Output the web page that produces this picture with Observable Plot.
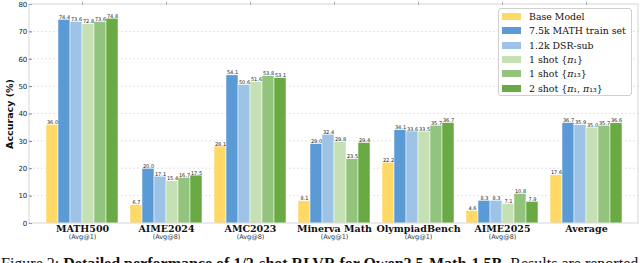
<!DOCTYPE html>
<html><head><meta charset="utf-8">
<script src="https://cdn.jsdelivr.net/npm/d3@7"></script>
<script src="https://cdn.jsdelivr.net/npm/@observablehq/plot@0.6"></script>
<style>
html,body{margin:0;padding:0;background:#fff;}
body{width:640px;height:263px;overflow:hidden;}
#wrap{position:relative;width:640px;height:248px;}
#ylabel{position:absolute;left:9px;top:114px;transform:translate(-50%,-50%) rotate(-90deg);font:bold 9.5px "DejaVu Sans",sans-serif;color:#111;white-space:nowrap;}
#legend{position:absolute;left:498px;top:8px;width:134px;height:88px;border:1px solid #d0d0d0;border-radius:3px;background:rgba(255,255,255,0.9);box-sizing:border-box;}
.row{position:absolute;left:3px;height:14px;display:flex;align-items:center;font:9.4px "DejaVu Serif",serif;color:#111;white-space:nowrap;}
.sw{width:19px;height:7px;margin-right:8px;}
#caption{font-family:"Liberation Serif",serif;font-size:16px;white-space:nowrap;margin-left:1px;line-height:16px;padding-top:8px;color:#111;}
</style></head><body>
<div id="wrap"><div id="ylabel">Accuracy (%)</div><div id="legend"></div></div>
<div id="caption">Figure 2: <b>Detailed performance of 1/2-shot RLVR for Qwen2.5-Math-1.5B.</b> Results are reported</div>
<script>
const benchmarks = ["MATH500","AIME2024","AMC2023","Minerva Math","OlympiadBench","AIME2025","Average"];
const metrics = ["(Avg@1)","(Avg@8)","(Avg@8)","(Avg@1)","(Avg@1)","(Avg@8)",""];
const settings = ["Base Model","7.5k MATH train set","1.2k DSR-sub","1 shot {π₁}","1 shot {π₁₃}","2 shot {π₁, π₁₃}"];
const baseModel   = [36.0, 6.7, 28.1, 8.1, 22.2, 4.6, 17.6];
const math7k5     = [74.4, 20.0, 54.1, 29.0, 34.1, 8.3, 36.7];
const dsrSub      = [73.6, 17.1, 50.6, 32.4, 33.6, 8.3, 35.9];
const shotPi1     = [72.8, 15.4, 51.6, 29.8, 33.5, 7.1, 35.0];
const shotPi13    = [73.6, 16.7, 53.8, 23.5, 35.7, 10.8, 35.7];
const shotPi1Pi13 = [74.8, 17.5, 53.1, 29.4, 36.7, 7.9, 36.6];
const yTicks = [0, 10, 20, 30, 40, 50, 60, 70, 80];
const colors = ["#ffd966", "#5b9bd5", "#9dc3e6", "#c5e0b4", "#93c47d", "#6aaa45"];

const series = [baseModel, math7k5, dsrSub, shotPi1, shotPi13, shotPi1Pi13];
const data = benchmarks.flatMap((b, i) => settings.map((s, j) => ({benchmark: b, setting: s, value: series[j][i]})));
const metricOf = new Map(benchmarks.map((b, i) => [b, metrics[i]]));

const W = 640, H = 248, ML = 29, MR = 2, MT = 4, MB = 25;
const fxPadOuter = 0.0965;
const fxStep = (W - ML - MR) / (benchmarks.length + 2 * fxPadOuter);
const axisShift = fxPadOuter * fxStep;

const chart = Plot.plot({
  width: W, height: H, marginTop: MT, marginBottom: MB, marginLeft: ML, marginRight: MR,
  style: {background: "transparent", fontFamily: "DejaVu Sans, sans-serif"},
  fx: {domain: benchmarks, paddingInner: 0, paddingOuter: fxPadOuter, axis: null, label: null},
  x: {domain: settings, paddingInner: 0, paddingOuter: 0.33, axis: null},
  y: {domain: [0, 80], axis: null},
  color: {domain: settings, range: colors},
  marks: [
    Plot.barY(data, {fx: "benchmark", x: "setting", y: "value", fill: "setting", stroke: "white", strokeWidth: 0.5}),
    Plot.text(data, {fx: "benchmark", x: "setting", y: "value", text: d => d.value.toFixed(1), lineAnchor: "bottom", dy: -1, fontSize: 5, fill: "#222"}),
    Plot.text(benchmarks, {fx: d => d, text: d => d, frameAnchor: "bottom", dy: 8, fontSize: 9.5, fontWeight: "bold", fontFamily: "DejaVu Serif, serif", fill: "#111"}),
    Plot.text(benchmarks, {fx: d => d, text: d => metricOf.get(d), frameAnchor: "bottom", dy: 15, fontSize: 6.5, fill: "#333"}),
    Plot.axisFx({tickSize: 3, tickFormat: () => "", stroke: "#888", strokeWidth: 0.8}),
    Plot.axisY({ticks: yTicks, tickSize: 3, tickPadding: 2, fontSize: 7, label: null, dx: -axisShift, stroke: "#777", fill: "#222"})
  ]
});
document.getElementById("wrap").prepend(chart);

// grid lines and frame across the whole plot area, positioned with the library's y scale
const y = chart.scale("y");
const ns = "http://www.w3.org/2000/svg";
const svg = chart.tagName.toLowerCase() === "svg" ? chart : chart.querySelector("svg");
const gridG = document.createElementNS(ns, "g");
for (const t of yTicks.slice(1, -1)) {
  const ln = document.createElementNS(ns, "line");
  ln.setAttribute("x1", ML); ln.setAttribute("x2", W - MR);
  ln.setAttribute("y1", y.apply(t)); ln.setAttribute("y2", y.apply(t));
  ln.setAttribute("stroke", "#d8d8d8"); ln.setAttribute("stroke-width", 0.7);
  ln.setAttribute("stroke-dasharray", "2,2");
  gridG.appendChild(ln);
}
const firstG = svg.querySelector("g");
svg.insertBefore(gridG, firstG);
const frame = document.createElementNS(ns, "rect");
frame.setAttribute("x", ML); frame.setAttribute("y", y.apply(80));
frame.setAttribute("width", W - ML - MR); frame.setAttribute("height", y.apply(0) - y.apply(80));
frame.setAttribute("fill", "none"); frame.setAttribute("stroke", "#cccccc"); frame.setAttribute("stroke-width", 0.8);
svg.appendChild(frame);

// legend
const color = chart.scale("color");
const legend = document.getElementById("legend");
settings.forEach((s, j) => {
  const row = document.createElement("div");
  row.className = "row";
  row.style.top = (0.3 + j * 14.4) + "px";
  const sw = document.createElement("span");
  sw.className = "sw"; sw.style.background = color.apply(s);
  const lab = document.createElement("span");
  lab.innerHTML = s.replace(/π/g, "<i>π</i>");
  row.appendChild(sw); row.appendChild(lab);
  legend.appendChild(row);
});
</script>
</body></html>
